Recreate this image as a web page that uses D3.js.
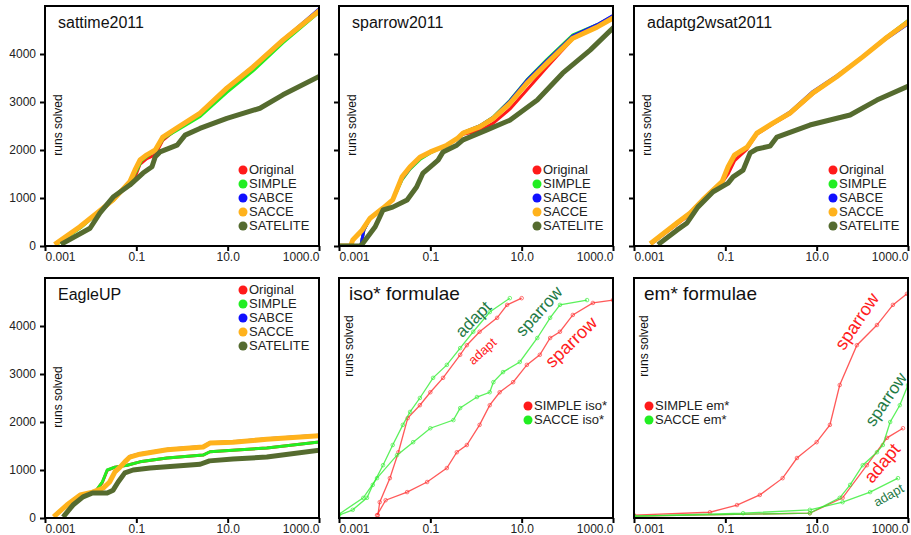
<!DOCTYPE html>
<html>
<head>
<meta charset="utf-8">
<script src="https://cdn.jsdelivr.net/npm/d3@7/dist/d3.min.js"></script>
<style>
  body { margin: 0; background: #fff; }
  svg { display: block; font-family: "Liberation Sans", Arial, sans-serif; }
</style>
</head>
<body>
<svg id="chart" width="911" height="535"></svg>
<script>
// tick labels
const xTicks = [0.001, 0.1, 10, 1000];
const xTickLabels = ["0.001", "0.1", "10.0", "1000.0"];
const yTicks = [0, 1000, 2000, 3000, 4000];
const solverNames = ["Original", "SIMPLE", "SABCE", "SACCE", "SATELITE"];

// sattime2011  [cpu time, runs solved]
const sattimeOriginal = [[0.0018,60],[0.0058,380],[0.014,680],[0.031,950],[0.072,1320],[0.1,1500],[0.12,1700],[0.17,1820],[0.26,1900],[0.38,2200],[0.78,2440],[2.5,2760],[9.6,3300],[36,3740],[162,4300],[950,4890]];
const sattimeSimple = [[0.002,60],[0.006,380],[0.014,680],[0.031,950],[0.072,1320],[0.1,1560],[0.13,1780],[0.18,1880],[0.27,2000],[0.4,2250],[0.8,2420],[2.5,2700],[9.6,3200],[36,3650],[162,4230],[950,4850]];
const sattimeSabce = [[0.0018,60],[0.0058,400],[0.014,690],[0.031,960],[0.072,1340],[0.093,1580],[0.12,1790],[0.17,1900],[0.26,2000],[0.38,2260],[0.78,2450],[2.5,2760],[9.6,3280],[36,3720],[162,4290],[950,4920]];
const sattimeSacce = [[0.0018,60],[0.0058,400],[0.0138,690],[0.031,960],[0.072,1340],[0.093,1580],[0.12,1790],[0.17,1900],[0.26,2000],[0.38,2270],[0.78,2460],[2.5,2770],[9.6,3290],[36,3730],[162,4290],[950,4880]];
const sattimeSatelite = [[0.0025,60],[0.0097,370],[0.016,690],[0.031,1020],[0.072,1270],[0.14,1520],[0.22,1650],[0.26,1860],[0.33,1960],[0.78,2100],[1.17,2310],[2.46,2450],[9.6,2660],[51,2870],[162,3150],[950,3520]];

// sparrow2011
const sparrowOriginal = [[0.001,0],[0.003,0],[0.0035,330],[0.0048,580],[0.0092,790],[0.015,960],[0.024,1420],[0.036,1640],[0.059,1850],[0.1,1960],[0.23,2100],[0.4,2240],[0.52,2330],[1.2,2400],[2.4,2560],[5.5,2850],[13,3250],[36,3730],[132,4320],[447,4560],[1000,4760]];
const sparrowSimple = [[0.001,0],[0.003,0],[0.0035,330],[0.0048,580],[0.0092,790],[0.015,960],[0.024,1380],[0.036,1600],[0.059,1800],[0.1,1940],[0.23,2100],[0.4,2250],[0.52,2360],[1.2,2500],[2.4,2690],[5.5,3030],[13,3460],[36,3890],[132,4400],[447,4610],[1000,4790]];
const sparrowSabce = [[0.001,0],[0.003,0],[0.0035,330],[0.0048,580],[0.0092,790],[0.015,960],[0.024,1400],[0.036,1620],[0.059,1830],[0.1,1950],[0.23,2100],[0.4,2250],[0.52,2360],[1.2,2500],[2.4,2680],[5.5,3020],[13,3450],[36,3870],[132,4380],[447,4610],[1000,4800]];
const sparrowSacce = [[0.001,0],[0.0018,0],[0.002,125],[0.0032,330],[0.0048,580],[0.0092,790],[0.015,960],[0.024,1440],[0.036,1650],[0.059,1850],[0.1,1960],[0.23,2100],[0.4,2250],[0.52,2350],[1.2,2480],[2.4,2660],[5.5,2970],[13,3390],[36,3810],[132,4330],[447,4560],[1000,4750]];
const sparrowSatelite = [[0.001,0],[0.003,0],[0.0041,170],[0.0062,400],[0.0092,750],[0.015,810],[0.031,960],[0.05,1230],[0.069,1520],[0.1,1650],[0.148,1790],[0.19,1960],[0.38,2100],[0.52,2210],[1.74,2420],[5.5,2620],[22,3040],[79,3600],[316,4080],[1000,4540]];

// adaptg2wsat2011
const adaptOriginal = [[0.0025,60],[0.0087,450],[0.017,660],[0.032,920],[0.085,1320],[0.115,1500],[0.16,1780],[0.3,2020],[0.49,2330],[1.1,2540],[2.6,2750],[8.3,3170],[27,3520],[102,3950],[347,4360],[950,4670]];
const adaptSimple = [[0.0025,60],[0.0087,470],[0.017,680],[0.032,950],[0.085,1330],[0.115,1620],[0.16,1880],[0.3,2060],[0.49,2340],[1.1,2550],[2.6,2760],[8.3,3180],[27,3520],[102,3940],[347,4360],[950,4680]];
const adaptSabce = [[0.0025,60],[0.0087,490],[0.017,700],[0.032,970],[0.085,1350],[0.115,1640],[0.16,1890],[0.3,2060],[0.49,2350],[1.1,2560],[2.6,2790],[8.3,3220],[27,3540],[102,3940],[347,4330],[950,4610]];
const adaptSacce = [[0.0025,80],[0.0087,480],[0.017,690],[0.032,960],[0.085,1340],[0.115,1650],[0.16,1900],[0.3,2060],[0.49,2350],[1.1,2560],[2.6,2770],[8.3,3190],[27,3520],[102,3940],[347,4350],[950,4650]];
const adaptSatelite = [[0.0037,60],[0.0087,330],[0.0145,480],[0.025,810],[0.054,1130],[0.115,1310],[0.148,1440],[0.245,1580],[0.35,1940],[0.49,2020],[0.95,2080],[1.35,2270],[7.1,2520],[54,2730],[209,3040],[1000,3330]];

// EagleUP
const eagleOriginal = [[0.0017,60],[0.0059,480],[0.0125,540],[0.018,740],[0.023,990],[0.034,1060],[0.063,1100],[0.12,1170],[0.47,1250],[2.9,1310],[4.1,1380],[13,1410],[72,1460],[950,1580]];
const eagleSimple = [[0.0017,60],[0.0059,480],[0.0125,540],[0.018,750],[0.023,1000],[0.034,1060],[0.063,1100],[0.12,1170],[0.47,1250],[2.9,1310],[4.1,1380],[13,1410],[72,1460],[950,1580]];
const eagleSabce = [[0.0017,60],[0.003,270],[0.0059,480],[0.011,540],[0.019,625],[0.026,750],[0.034,960],[0.044,1060],[0.056,1170],[0.072,1280],[0.12,1340],[0.47,1430],[2.9,1490],[4.1,1570],[13,1590],[72,1650],[950,1720]];
const eagleSacce = [[0.0017,60],[0.003,270],[0.0059,480],[0.011,540],[0.019,625],[0.026,750],[0.034,960],[0.044,1060],[0.056,1170],[0.072,1270],[0.12,1330],[0.47,1420],[2.9,1480],[4.1,1560],[13,1580],[72,1640],[950,1710]];
const eagleSatelite = [[0.0027,60],[0.0041,270],[0.0068,440],[0.011,520],[0.023,520],[0.031,580],[0.04,750],[0.056,940],[0.085,1000],[0.2,1040],[2.5,1120],[4.0,1190],[13,1230],[72,1270],[950,1410]];

// iso* formulae
const isoSimpleAdapt = [[0.0071,60],[0.0078,330],[0.013,830],[0.02,1370],[0.032,2080],[0.059,2350],[0.1,2620],[0.19,2920],[0.45,3400],[0.63,3600],[1.2,3880],[2.9,4170],[4.8,4440],[10,4580]];
const isoSacceAdapt = [[0.001,60],[0.002,170],[0.0041,420],[0.0055,690],[0.0092,1100],[0.015,1520],[0.025,1940],[0.036,2210],[0.059,2500],[0.115,2920],[0.23,3190],[0.45,3540],[0.87,3880],[2.0,4290],[5.5,4580]];
const isoSimpleSparrow = [[0.0068,60],[0.0105,370],[0.031,540],[0.085,750],[0.23,1040],[0.38,1370],[0.63,1520],[1.2,1940],[2.0,2350],[3.3,2620],[6.5,2830],[13,3190],[25,3400],[42,3750],[69,3880],[132,4230],[363,4480],[1000,4540]];
const isoSacceSparrow = [[0.001,80],[0.0034,420],[0.0068,830],[0.0186,1310],[0.042,1580],[0.1,1870],[0.32,2040],[0.45,2290],[1.05,2520],[2.0,2620],[2.4,2830],[3.9,3040],[9.1,3250],[22,3750],[42,4170],[69,4440],[270,4540]];

// em* formulae
const emSimpleSparrow = [[0.001,60],[0.046,120],[0.18,270],[0.57,480],[1.8,830],[3.7,1250],[10,1580],[19.5,1940],[32,2770],[76,3600],[209,4020],[468,4440],[950,4670]];
const emSacceSparrow = [[0.001,40],[7.1,100],[32,420],[54,690],[102,1100],[209,1370],[282,1520],[407,2000],[661,2350],[1000,2770]];
const emSimpleAdapt = [[0.001,40],[7.1,100],[37,420],[126,1100],[347,1670],[776,1870]];
const emSacceAdapt = [[0.001,40],[0.245,100],[7.1,170],[37,330],[148,540],[603,830]];

const colors = { Original: "#ff1a1a", SIMPLE: "#22ee22", SABCE: "#1010ff", SACCE: "#ffb21c", SATELITE: "#556b2f" };
const widths = { Original: 3, SIMPLE: 3, SABCE: 3, SACCE: 5, SATELITE: 5 };

const panels = [
  { title: "sattime2011", x: 45, y: 6, yLabels: true, yTickMarks: true, legend: [243, 174],
    series: [sattimeOriginal, sattimeSimple, sattimeSabce, sattimeSacce, sattimeSatelite] },
  { title: "sparrow2011", x: 339, y: 6, yLabels: false, yTickMarks: true, legend: [537, 174],
    series: [sparrowOriginal, sparrowSimple, sparrowSabce, sparrowSacce, sparrowSatelite] },
  { title: "adaptg2wsat2011", x: 634, y: 6, yLabels: false, yTickMarks: true, legend: [833, 174],
    series: [adaptOriginal, adaptSimple, adaptSabce, adaptSacce, adaptSatelite] },
  { title: "EagleUP", x: 45, y: 278, yLabels: true, yTickMarks: true, legend: [243, 294],
    series: [eagleOriginal, eagleSimple, eagleSabce, eagleSacce, eagleSatelite] }
];

const W = 274, H = 240;
const svg = d3.select("#chart");

function frame(px, py, title, titleSize, titleDx, yLabels, yTickMarks, labelDx) {
  const g = svg.append("g").attr("transform", `translate(${px},${py})`);
  const x = d3.scaleLog().domain([0.001, 1000]).range([0, W]);
  const y = d3.scaleLinear().domain([0, 5000]).range([H, 0]);
  const clipId = "clip" + px + "_" + py;
  g.append("clipPath").attr("id", clipId).append("rect").attr("width", W).attr("height", H);
  const plot = g.append("g").attr("clip-path", `url(#${clipId})`);

  const xa = g.append("g").attr("transform", `translate(0,${H})`)
    .call(d3.axisBottom(x).tickValues(xTicks).tickSize(5).tickPadding(1)
      .tickFormat((d, i) => xTickLabels[i]));
  xa.select(".domain").remove();
  xa.selectAll("line").attr("stroke", "#000").attr("stroke-width", 2);
  xa.selectAll("text").attr("font-size", 12).attr("fill", "#222")
    .attr("font-family", "Liberation Sans, Arial, sans-serif")
    .attr("text-anchor", (d, i) => i === 0 ? "start" : (i === xTicks.length - 1 ? "end" : "middle"));

  if (yTickMarks) {
    const ya = g.append("g")
      .call(d3.axisLeft(y).tickValues(yTicks).tickSize(5).tickPadding(4)
        .tickFormat(d => yLabels ? d : ""));
    ya.select(".domain").remove();
    ya.selectAll("line").attr("stroke", "#000").attr("stroke-width", 2);
    ya.selectAll("text").attr("font-size", 12).attr("fill", "#222")
      .attr("font-family", "Liberation Sans, Arial, sans-serif");
  }

  g.append("rect").attr("width", W).attr("height", H)
    .attr("fill", "none").attr("stroke", "#000").attr("stroke-width", 2);

  g.append("text").attr("x", titleDx).attr("y", 22).attr("font-size", titleSize)
    .attr("fill", "#111").text(title);

  g.append("text").attr("transform", `translate(${labelDx},${labelDx > 15 ? 119 : 68}) rotate(-90)`)
    .attr("text-anchor", "middle").attr("font-size", 12).attr("fill", "#111").text("runs solved");

  return { g, plot, x, y };
}

function legend(g, lx, ly, names, cols) {
  names.forEach((n, i) => {
    g.append("circle").attr("cx", lx).attr("cy", ly + i * 14 - 4).attr("r", 4.5).attr("fill", cols[i]);
    g.append("text").attr("x", lx + 6).attr("y", ly + i * 14).attr("font-size", 13)
      .attr("fill", "#222").text(n);
  });
}

panels.forEach(p => {
  const f = frame(p.x, p.y, p.title, 16, 13, p.yLabels, p.yTickMarks, 17);
  const line = d3.line().x(d => f.x(d[0])).y(d => f.y(d[1]));
  p.series.forEach((s, i) => {
    const n = solverNames[i];
    f.plot.append("path").datum(s).attr("d", line).attr("fill", "none")
      .attr("stroke", colors[n]).attr("stroke-width", widths[n])
      .attr("stroke-linejoin", "round").attr("stroke-linecap", "square");
  });
  legend(svg, p.legend[0], p.legend[1], solverNames, solverNames.map(n => colors[n]));
});

// iso* / em* panels
const formulaPanels = [
  { title: "iso* formulae", x: 339, y: 278, legend: [528, 410], names: ["SIMPLE iso*", "SACCE iso*"],
    series: [[isoSimpleAdapt, "#ff3030"], [isoSimpleSparrow, "#ff3030"], [isoSacceAdapt, "#33ee33"], [isoSacceSparrow, "#33ee33"]],
    labels: [["adapt", 474, 320, -45, 17, "#1f7a45"], ["adapt", 483, 352, -42, 13, "#ff2020"],
             ["sparrow", 540, 312, -48, 17, "#1f7a45"], ["sparrow", 572, 343, -44, 18, "#ff2020"]] },
  { title: "em* formulae", x: 634, y: 278, legend: [649, 410], names: ["SIMPLE em*", "SACCE em*"],
    series: [[emSimpleSparrow, "#ff3030"], [emSimpleAdapt, "#ff3030"], [emSacceSparrow, "#33ee33"], [emSacceAdapt, "#33ee33"]],
    labels: [["sparrow", 858, 322, -56, 18, "#ff2020"], ["sparrow", 887, 400, -56, 17, "#1f7a45"],
             ["adapt", 883, 464, -50, 18, "#ff2020"], ["adapt", 889, 496, -30, 13, "#1f7a45"]] }
];

formulaPanels.forEach(p => {
  const f = frame(p.x, p.y, p.title, 19, 10, false, false, 14);
  const line = d3.line().x(d => f.x(d[0])).y(d => f.y(d[1]));
  p.series.forEach(([s, c]) => {
    f.plot.append("path").datum(s).attr("d", line).attr("fill", "none")
      .attr("stroke", c).attr("stroke-width", 1.3).attr("stroke-opacity", 0.8);
    f.plot.selectAll(null).data(s).enter().append("circle")
      .attr("cx", d => f.x(d[0])).attr("cy", d => f.y(d[1])).attr("r", 1.8)
      .attr("fill", "none").attr("stroke", c).attr("stroke-width", 0.8).attr("stroke-opacity", 0.8);
  });
  p.labels.forEach(([t, lx, ly, rot, fs, c]) => {
    svg.append("text").attr("transform", `translate(${lx},${ly}) rotate(${rot})`)
      .attr("text-anchor", "middle").attr("dominant-baseline", "middle")
      .attr("font-size", fs).attr("fill", c).text(t);
  });
  legend(svg, p.legend[0], p.legend[1], p.names, ["#ff1a1a", "#22ee22"]);
});
</script>
</body>
</html>
